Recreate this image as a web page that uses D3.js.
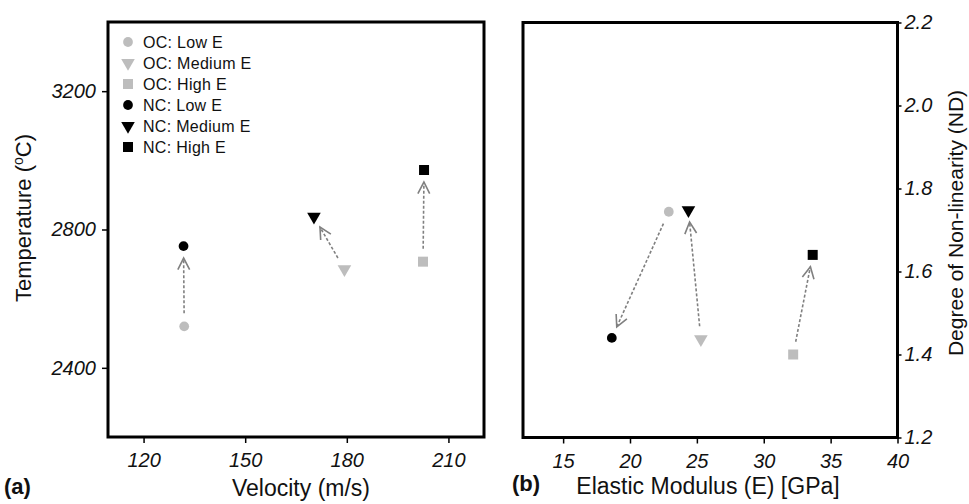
<!DOCTYPE html>
<html>
<head>
<meta charset="utf-8">
<script src="https://cdn.jsdelivr.net/npm/d3@7"></script>
<style>
  body { margin: 0; background: #fff; }
  text { font-family: "Liberation Sans", Arial, sans-serif; fill: #111; }
</style>
</head>
<body>
<svg id="chart" width="969" height="504"></svg>
<script>
// groups shared by both panels
const groups = ["Low E", "Medium E", "High E"];
const symbolsByGroup = [d3.symbolCircle, d3.symbolTriangle, d3.symbolSquare];

// panel (a): velocity vs temperature
const velocityOC = [132.0, 179.3, 202.5];
const tempOC = [2520, 2685, 2707];
const velocityNC = [131.8, 170.3, 202.8];
const tempNC = [2752, 2837, 2972];
const velocityTicks = [120, 150, 180, 210];
const tempTicks = [2400, 2800, 3200];

// panel (b): elastic modulus vs degree of non-linearity
const modulusOC = [22.9, 25.3, 32.2];
const ndOC = [1.744, 1.437, 1.40];
const modulusNC = [18.64, 24.37, 33.66];
const ndNC = [1.44, 1.748, 1.64];
const modulusTicks = [15, 20, 25, 30, 35, 40];
const ndTicks = [1.2, 1.4, 1.6, 1.8, 2.0, 2.2];

const grey = "#bdbdbd";
const black = "#000";
const arrowColor = "#808080";

const svg = d3.select("#chart");

// symbol generator, triangles point down
let marker = (g, i, x, y, color) => {
  const sizes = [75, 80, 100];
  g.append("path")
    .attr("d", d3.symbol().type(symbolsByGroup[i]).size(sizes[i])())
    .attr("transform", `translate(${x},${y})` + (i === 1 ? " rotate(180)" : ""))
    .attr("fill", color);
};

// dashed arrow from OC point to NC point, shortened at both ends
let arrow = (g, x1, y1, x2, y2) => {
  const dx = x2 - x1, dy = y2 - y1, len = Math.hypot(dx, dy);
  const ux = dx / len, uy = dy / len;
  const sx = x1 + ux * 13, sy = y1 + uy * 13;
  const ex = x2 - ux * 12, ey = y2 - uy * 12;
  g.append("line")
    .attr("x1", sx).attr("y1", sy).attr("x2", ex).attr("y2", ey)
    .attr("stroke", arrowColor).attr("stroke-width", 1.6)
    .attr("stroke-dasharray", "3,2");
  const ang = Math.atan2(-uy, -ux), spread = 27 * Math.PI / 180, leg = 13;
  const pts = [
    [ex + leg * Math.cos(ang + spread), ey + leg * Math.sin(ang + spread)],
    [ex, ey],
    [ex + leg * Math.cos(ang - spread), ey + leg * Math.sin(ang - spread)]
  ];
  g.append("path")
    .attr("d", d3.line()(pts))
    .attr("fill", "none").attr("stroke", arrowColor).attr("stroke-width", 1.6);
};

let styleAxis = (g) => {
  g.select(".domain").remove();
  g.selectAll(".tick line").attr("stroke", "#000").attr("stroke-width", 1.5);
  g.selectAll(".tick text")
    .style("font-size", "20px").style("font-style", "italic").attr("fill", "#111");
};

// ---------- panel (a) ----------
const xA = d3.scaleLinear().domain([109.5, 220.5]).range([108, 484]);
const yA = d3.scaleLinear().domain([2200, 3400]).range([437, 22]);
const gA = svg.append("g");

gA.append("g").attr("transform", "translate(0,437)")
  .call(d3.axisBottom(xA).tickValues(velocityTicks).tickSize(6).tickPadding(10))
  .call(styleAxis);
gA.append("g").attr("transform", "translate(108,0)")
  .call(d3.axisLeft(yA).tickValues(tempTicks).tickFormat(d3.format("d")).tickSize(6).tickPadding(6))
  .call(styleAxis);

gA.append("rect").attr("x", 108).attr("y", 22).attr("width", 376).attr("height", 415)
  .attr("fill", "none").attr("stroke", "#000").attr("stroke-width", 3);

groups.forEach((grp, i) => {
  arrow(gA, xA(velocityOC[i]), yA(tempOC[i]), xA(velocityNC[i]), yA(tempNC[i]));
});
groups.forEach((grp, i) => {
  marker(gA, i, xA(velocityOC[i]), yA(tempOC[i]), grey);
  marker(gA, i, xA(velocityNC[i]), yA(tempNC[i]), black);
});

// legend
const legendItems = [];
groups.forEach((grp, i) => legendItems.push({ label: "OC: " + grp, i: i, color: grey }));
groups.forEach((grp, i) => legendItems.push({ label: "NC: " + grp, i: i, color: black }));
legendItems.forEach((d, k) => {
  const y = 42 + k * 21;
  marker(gA, d.i, 128, y, d.color);
  gA.append("text").attr("x", 143).attr("y", y).attr("dy", "0.36em")
    .style("font-size", "16px").style("letter-spacing", "0.3px").text(d.label);
});

gA.append("text")
  .attr("transform", "translate(31,218) rotate(-90)")
  .attr("text-anchor", "middle").style("font-size", "22px")
  .call(t => {
    t.append("tspan").text("Temperature (");
    t.append("tspan").attr("dy", "-8").style("font-size", "14px").text("o");
    t.append("tspan").attr("dy", "8").text("C)");
  });
gA.append("text").attr("x", 301).attr("y", 496).attr("text-anchor", "middle")
  .style("font-size", "23px").text("Velocity (m/s)");
gA.append("text").attr("x", 4).attr("y", 494)
  .style("font-size", "22px").style("font-weight", "bold").text("(a)");

// ---------- panel (b) ----------
const xB = d3.scaleLinear().domain([12, 40]).range([523, 897.5]);
const yB = d3.scaleLinear().domain([1.2, 2.2]).range([437.5, 22.5]);
const gB = svg.append("g");

gB.append("g").attr("transform", "translate(0,437.5)")
  .call(d3.axisBottom(xB).tickValues(modulusTicks).tickSize(6).tickPadding(10))
  .call(styleAxis);
gB.append("g").attr("transform", "translate(897.5,0)")
  .call(d3.axisRight(yB).tickValues(ndTicks).tickFormat(d3.format(".1f")).tickSize(4).tickPadding(3))
  .call(styleAxis);

gB.append("rect").attr("x", 523).attr("y", 22.5).attr("width", 374.5).attr("height", 415)
  .attr("fill", "none").attr("stroke", "#000").attr("stroke-width", 3);

groups.forEach((grp, i) => {
  arrow(gB, xB(modulusOC[i]), yB(ndOC[i]), xB(modulusNC[i]), yB(ndNC[i]));
});
groups.forEach((grp, i) => {
  marker(gB, i, xB(modulusOC[i]), yB(ndOC[i]), grey);
  marker(gB, i, xB(modulusNC[i]), yB(ndNC[i]), black);
});

gB.append("text")
  .attr("transform", "translate(963,223) rotate(-90)")
  .attr("text-anchor", "middle").style("font-size", "21px")
  .text("Degree of Non-linearity (ND)");
gB.append("text").attr("x", 708).attr("y", 494).attr("text-anchor", "middle")
  .style("font-size", "23px").text("Elastic Modulus (E) [GPa]");
gB.append("text").attr("x", 512).attr("y", 491)
  .style("font-size", "22px").style("font-weight", "bold").text("(b)");
</script>
</body>
</html>
